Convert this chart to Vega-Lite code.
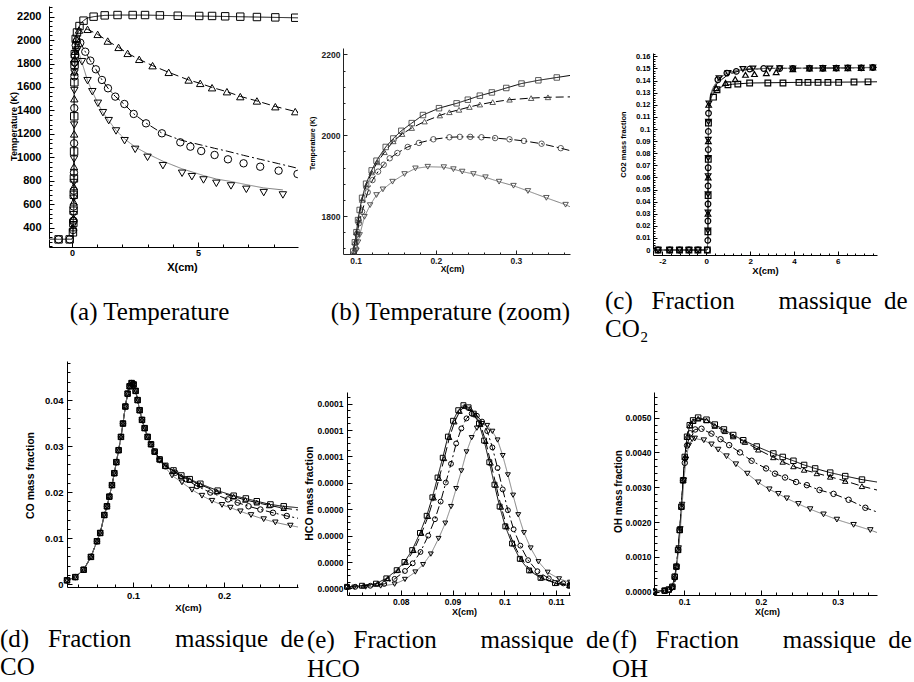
{
"$schema": "https://vega.github.io/schema/vega-lite/v6.json",
"background": "white",
"padding": 0,
"columns": 6,
"align": "each",
"bounds": "flush",
"spacing": 0,
"config": {
  "view": {"stroke": null},
  "axis": {"grid": false, "domainColor": "black", "tickColor": "black", "labelColor": "black", "titleColor": "black", "labelFont": "Liberation Sans", "titleFont": "Liberation Sans", "labelFontWeight": "bold", "titleFontWeight": "bold", "labelOverlap": false, "labelFlush": false, "domainWidth": 1, "tickWidth": 1, "titleBaseline": "middle", "titleAlign": "center", "tickCount": 1000}
},
"datasets": {
"aL": [
{"x":-0.91,"y":300,"s":"A"},{"x":-0.5,"y":300,"s":"A"},{"x":0,"y":300,"s":"A"},{"x":0.03,"y":320,"s":"A"},{"x":0.05,"y":400,"s":"A"},{"x":0.06,"y":480,"s":"A"},{"x":0.07,"y":620,"s":"A"},{"x":0.08,"y":850,"s":"A"},{"x":0.085,"y":1050,"s":"A"},{"x":0.09,"y":1300,"s":"A"},{"x":0.095,"y":1560,"s":"A"},{"x":0.1,"y":1730,"s":"A"},{"x":0.11,"y":1830,"s":"A"},{"x":0.12,"y":1905,"s":"A"},{"x":0.14,"y":1990,"s":"A"},{"x":0.17,"y":2030,"s":"A"},{"x":0.2,"y":2065,"s":"A"},{"x":0.25,"y":2095,"s":"A"},{"x":0.3,"y":2120,"s":"A"},{"x":0.36,"y":2145,"s":"A"},{"x":0.46,"y":2166,"s":"A"},{"x":0.6,"y":2188,"s":"A"},{"x":0.86,"y":2200,"s":"A"},{"x":1.3,"y":2211,"s":"A"},{"x":2,"y":2214,"s":"A"},{"x":3,"y":2213,"s":"A"},{"x":4,"y":2209,"s":"A"},{"x":5,"y":2205,"s":"A"},{"x":6,"y":2202,"s":"A"},{"x":7,"y":2198,"s":"A"},{"x":8,"y":2194,"s":"A"},{"x":8.97,"y":2190,"s":"A"},
{"x":-0.91,"y":300,"s":"B"},{"x":0,"y":300,"s":"B"},{"x":0.03,"y":320,"s":"B"},{"x":0.05,"y":400,"s":"B"},{"x":0.06,"y":480,"s":"B"},{"x":0.07,"y":620,"s":"B"},{"x":0.08,"y":850,"s":"B"},{"x":0.085,"y":1050,"s":"B"},{"x":0.09,"y":1300,"s":"B"},{"x":0.095,"y":1560,"s":"B"},{"x":0.1,"y":1730,"s":"B"},{"x":0.11,"y":1825,"s":"B"},{"x":0.12,"y":1900,"s":"B"},{"x":0.14,"y":1975,"s":"B"},{"x":0.17,"y":2015,"s":"B"},{"x":0.2,"y":2045,"s":"B"},{"x":0.25,"y":2072,"s":"B"},{"x":0.3,"y":2085,"s":"B"},{"x":0.36,"y":2094,"s":"B"},{"x":0.45,"y":2097,"s":"B"},{"x":0.62,"y":2092,"s":"B"},{"x":1.02,"y":2049,"s":"B"},{"x":1.42,"y":1992,"s":"B"},{"x":1.85,"y":1938,"s":"B"},{"x":2.21,"y":1887,"s":"B"},{"x":2.67,"y":1836,"s":"B"},{"x":3.2,"y":1782,"s":"B"},{"x":3.84,"y":1725,"s":"B"},{"x":4.63,"y":1660,"s":"B"},{"x":5.09,"y":1631,"s":"B"},{"x":5.56,"y":1596,"s":"B"},{"x":6.15,"y":1560,"s":"B"},{"x":6.68,"y":1520,"s":"B"},{"x":7.34,"y":1481,"s":"B"},{"x":8.07,"y":1434,"s":"B"},{"x":8.97,"y":1385,"s":"B"},
{"x":-0.91,"y":300,"s":"C"},{"x":0,"y":300,"s":"C"},{"x":0.03,"y":320,"s":"C"},{"x":0.05,"y":400,"s":"C"},{"x":0.06,"y":480,"s":"C"},{"x":0.07,"y":620,"s":"C"},{"x":0.08,"y":850,"s":"C"},{"x":0.085,"y":1050,"s":"C"},{"x":0.09,"y":1300,"s":"C"},{"x":0.095,"y":1540,"s":"C"},{"x":0.1,"y":1720,"s":"C"},{"x":0.11,"y":1820,"s":"C"},{"x":0.12,"y":1880,"s":"C"},{"x":0.14,"y":1935,"s":"C"},{"x":0.17,"y":1975,"s":"C"},{"x":0.2,"y":1990,"s":"C"},{"x":0.25,"y":1995,"s":"C"},{"x":0.3,"y":1988,"s":"C"},{"x":0.36,"y":1968,"s":"C"},{"x":0.53,"y":1901,"s":"C"},{"x":0.73,"y":1825,"s":"C"},{"x":0.95,"y":1751,"s":"C"},{"x":1.19,"y":1662,"s":"C"},{"x":1.43,"y":1590,"s":"C"},{"x":1.72,"y":1520,"s":"C"},{"x":2.08,"y":1452,"s":"C"},{"x":2.45,"y":1372,"s":"C"},{"x":2.94,"y":1292,"s":"C"},{"x":3.57,"y":1207,"s":"C"},{"x":4.3,"y":1148,"s":"C"},{"x":5.13,"y":1105,"s":"C"},{"x":5.66,"y":1077,"s":"C"},{"x":6.19,"y":1051,"s":"C"},{"x":6.81,"y":1017,"s":"C"},{"x":7.47,"y":983,"s":"C"},{"x":8.2,"y":946,"s":"C"},{"x":8.97,"y":906,"s":"C"},
{"x":-0.91,"y":300,"s":"D"},{"x":0,"y":300,"s":"D"},{"x":0.03,"y":320,"s":"D"},{"x":0.05,"y":400,"s":"D"},{"x":0.06,"y":480,"s":"D"},{"x":0.07,"y":620,"s":"D"},{"x":0.08,"y":850,"s":"D"},{"x":0.085,"y":1050,"s":"D"},{"x":0.09,"y":1300,"s":"D"},{"x":0.095,"y":1520,"s":"D"},{"x":0.1,"y":1700,"s":"D"},{"x":0.11,"y":1790,"s":"D"},{"x":0.12,"y":1830,"s":"D"},{"x":0.14,"y":1875,"s":"D"},{"x":0.17,"y":1912,"s":"D"},{"x":0.19,"y":1922,"s":"D"},{"x":0.21,"y":1921,"s":"D"},{"x":0.25,"y":1900,"s":"D"},{"x":0.3,"y":1875,"s":"D"},{"x":0.36,"y":1830,"s":"D"},{"x":0.4,"y":1808,"s":"D"},{"x":0.62,"y":1654,"s":"D"},{"x":0.81,"y":1560,"s":"D"},{"x":1.03,"y":1461,"s":"D"},{"x":1.23,"y":1381,"s":"D"},{"x":1.46,"y":1313,"s":"D"},{"x":1.75,"y":1230,"s":"D"},{"x":2.09,"y":1157,"s":"D"},{"x":2.51,"y":1088,"s":"D"},{"x":3.0,"y":1030,"s":"D"},{"x":3.61,"y":967,"s":"D"},{"x":4.37,"y":902,"s":"D"},{"x":5.22,"y":845,"s":"D"},{"x":5.73,"y":815,"s":"D"},{"x":6.31,"y":794,"s":"D"},{"x":6.92,"y":767,"s":"D"},{"x":7.61,"y":739,"s":"D"},{"x":8.37,"y":722,"s":"D"}
],
"aM": [
{"x":-0.53,"y":300,"s":"A"},{"x":-0.09,"y":300,"s":"A"},{"x":-0.53,"y":300,"s":"C"},{"x":-0.09,"y":300,"s":"C"},
{"x":0.04,"y":360,"s":"A"},{"x":0.055,"y":440,"s":"A"},{"x":0.065,"y":545,"s":"A"},{"x":0.073,"y":680,"s":"A"},{"x":0.079,"y":820,"s":"A"},{"x":0.085,"y":1050,"s":"A"},{"x":0.091,"y":1350,"s":"A"},{"x":0.097,"y":1640,"s":"A"},{"x":0.104,"y":1790,"s":"A"},{"x":0.113,"y":1880,"s":"A"},
{"x":0.05,"y":400,"s":"B"},{"x":0.06,"y":480,"s":"B"},{"x":0.07,"y":620,"s":"B"},{"x":0.076,"y":750,"s":"B"},{"x":0.082,"y":920,"s":"B"},{"x":0.088,"y":1200,"s":"B"},{"x":0.094,"y":1500,"s":"B"},{"x":0.1,"y":1730,"s":"B"},{"x":0.108,"y":1840,"s":"B"},{"x":0.12,"y":1905,"s":"B"},
{"x":0.045,"y":380,"s":"C"},{"x":0.0575,"y":460,"s":"C"},{"x":0.0675,"y":580,"s":"C"},{"x":0.0745,"y":715,"s":"C"},{"x":0.0805,"y":870,"s":"C"},{"x":0.0865,"y":1120,"s":"C"},{"x":0.0925,"y":1420,"s":"C"},{"x":0.0985,"y":1690,"s":"C"},{"x":0.106,"y":1810,"s":"C"},{"x":0.116,"y":1870,"s":"C"},
{"x":0.0525,"y":420,"s":"D"},{"x":0.0625,"y":510,"s":"D"},{"x":0.0715,"y":650,"s":"D"},{"x":0.0775,"y":785,"s":"D"},{"x":0.0835,"y":985,"s":"D"},{"x":0.0895,"y":1275,"s":"D"},{"x":0.0955,"y":1570,"s":"D"},{"x":0.102,"y":1720,"s":"D"},{"x":0.11,"y":1790,"s":"D"},
{"x":0.15,"y":2010,"s":"A"},{"x":0.2,"y":2065,"s":"A"},{"x":0.3,"y":2120,"s":"A"},{"x":0.46,"y":2166,"s":"A"},{"x":0.86,"y":2200,"s":"A"},{"x":1.3,"y":2211,"s":"A"},{"x":1.81,"y":2214,"s":"A"},{"x":2.41,"y":2214,"s":"A"},{"x":2.9,"y":2214,"s":"A"},{"x":3.49,"y":2211,"s":"A"},{"x":4.2,"y":2208,"s":"A"},{"x":5.05,"y":2206,"s":"A"},{"x":5.56,"y":2206,"s":"A"},{"x":6.08,"y":2203,"s":"A"},{"x":6.68,"y":2200,"s":"A"},{"x":7.34,"y":2197,"s":"A"},{"x":8.07,"y":2194,"s":"A"},{"x":8.86,"y":2191,"s":"A"},
{"x":0.17,"y":2016,"s":"B"},{"x":0.28,"y":2086,"s":"B"},{"x":0.62,"y":2092,"s":"B"},{"x":1.02,"y":2049,"s":"B"},{"x":1.42,"y":1992,"s":"B"},{"x":1.85,"y":1938,"s":"B"},{"x":2.21,"y":1887,"s":"B"},{"x":2.67,"y":1836,"s":"B"},{"x":3.2,"y":1782,"s":"B"},{"x":3.84,"y":1725,"s":"B"},{"x":4.63,"y":1660,"s":"B"},{"x":5.09,"y":1631,"s":"B"},{"x":5.56,"y":1594,"s":"B"},{"x":6.15,"y":1560,"s":"B"},{"x":6.68,"y":1518,"s":"B"},{"x":7.34,"y":1481,"s":"B"},{"x":8.07,"y":1432,"s":"B"},{"x":8.86,"y":1390,"s":"B"},
{"x":0.15,"y":1955,"s":"C"},{"x":0.2,"y":1990,"s":"C"},{"x":0.33,"y":1978,"s":"C"},{"x":0.53,"y":1901,"s":"C"},{"x":0.73,"y":1825,"s":"C"},{"x":0.95,"y":1751,"s":"C"},{"x":1.19,"y":1660,"s":"C"},{"x":1.43,"y":1589,"s":"C"},{"x":1.72,"y":1518,"s":"C"},{"x":2.08,"y":1455,"s":"C"},{"x":2.45,"y":1370,"s":"C"},{"x":2.94,"y":1290,"s":"C"},{"x":3.57,"y":1205,"s":"C"},{"x":4.3,"y":1128,"s":"C"},{"x":4.7,"y":1091,"s":"C"},{"x":5.13,"y":1054,"s":"C"},{"x":5.66,"y":1020,"s":"C"},{"x":6.19,"y":983,"s":"C"},{"x":6.81,"y":949,"s":"C"},{"x":7.47,"y":920,"s":"C"},{"x":8.2,"y":886,"s":"C"},{"x":8.95,"y":858,"s":"C"},
{"x":0.16,"y":1904,"s":"D"},{"x":0.22,"y":1917,"s":"D"},{"x":0.4,"y":1816,"s":"D"},{"x":0.62,"y":1654,"s":"D"},{"x":0.81,"y":1560,"s":"D"},{"x":1.03,"y":1461,"s":"D"},{"x":1.23,"y":1381,"s":"D"},{"x":1.46,"y":1313,"s":"D"},{"x":1.75,"y":1225,"s":"D"},{"x":2.09,"y":1142,"s":"D"},{"x":2.51,"y":1068,"s":"D"},{"x":3.0,"y":1000,"s":"D"},{"x":3.61,"y":929,"s":"D"},{"x":4.37,"y":864,"s":"D"},{"x":4.76,"y":835,"s":"D"},{"x":5.22,"y":807,"s":"D"},{"x":5.73,"y":778,"s":"D"},{"x":6.31,"y":756,"s":"D"},{"x":6.92,"y":727,"s":"D"},{"x":7.61,"y":699,"s":"D"},{"x":8.37,"y":679,"s":"D"}
],
"bL": [
{"x":0.095,"y":1690,"s":"A"},{"x":0.097,"y":1712,"s":"A"},{"x":0.099,"y":1735,"s":"A"},{"x":0.101,"y":1760,"s":"A"},{"x":0.103,"y":1790,"s":"A"},{"x":0.105,"y":1815,"s":"A"},{"x":0.108,"y":1845,"s":"A"},{"x":0.113,"y":1880,"s":"A"},{"x":0.12,"y":1913,"s":"A"},{"x":0.126,"y":1937,"s":"A"},{"x":0.1375,"y":1971,"s":"A"},{"x":0.147,"y":1992,"s":"A"},{"x":0.157,"y":2011,"s":"A"},{"x":0.17,"y":2030,"s":"A"},{"x":0.184,"y":2050,"s":"A"},{"x":0.204,"y":2067,"s":"A"},{"x":0.226,"y":2079,"s":"A"},{"x":0.24,"y":2088,"s":"A"},{"x":0.255,"y":2098,"s":"A"},{"x":0.27,"y":2106,"s":"A"},{"x":0.288,"y":2117,"s":"A"},{"x":0.307,"y":2128,"s":"A"},{"x":0.328,"y":2136,"s":"A"},{"x":0.351,"y":2143,"s":"A"},{"x":0.3675,"y":2148,"s":"A"},
{"x":0.095,"y":1690,"s":"B"},{"x":0.097,"y":1712,"s":"B"},{"x":0.099,"y":1735,"s":"B"},{"x":0.101,"y":1760,"s":"B"},{"x":0.104,"y":1795,"s":"B"},{"x":0.108,"y":1840,"s":"B"},{"x":0.113,"y":1875,"s":"B"},{"x":0.12,"y":1908,"s":"B"},{"x":0.127,"y":1933,"s":"B"},{"x":0.136,"y":1958,"s":"B"},{"x":0.147,"y":1985,"s":"B"},{"x":0.158,"y":2003,"s":"B"},{"x":0.17,"y":2018,"s":"B"},{"x":0.186,"y":2034,"s":"B"},{"x":0.205,"y":2049,"s":"B"},{"x":0.217,"y":2057,"s":"B"},{"x":0.229,"y":2063,"s":"B"},{"x":0.242,"y":2070,"s":"B"},{"x":0.255,"y":2076,"s":"B"},{"x":0.271,"y":2082,"s":"B"},{"x":0.292,"y":2088,"s":"B"},{"x":0.319,"y":2092,"s":"B"},{"x":0.34,"y":2094,"s":"B"},{"x":0.3675,"y":2095,"s":"B"},
{"x":0.098,"y":1690,"s":"C"},{"x":0.1,"y":1720,"s":"C"},{"x":0.102,"y":1755,"s":"C"},{"x":0.104,"y":1782,"s":"C"},{"x":0.108,"y":1811,"s":"C"},{"x":0.115,"y":1859,"s":"C"},{"x":0.121,"y":1889,"s":"C"},{"x":0.128,"y":1910,"s":"C"},{"x":0.135,"y":1927,"s":"C"},{"x":0.1425,"y":1943,"s":"C"},{"x":0.152,"y":1956,"s":"C"},{"x":0.165,"y":1971,"s":"C"},{"x":0.179,"y":1981,"s":"C"},{"x":0.197,"y":1990,"s":"C"},{"x":0.217,"y":1995,"s":"C"},{"x":0.23,"y":1996,"s":"C"},{"x":0.243,"y":1996,"s":"C"},{"x":0.257,"y":1995,"s":"C"},{"x":0.274,"y":1993,"s":"C"},{"x":0.292,"y":1990,"s":"C"},{"x":0.31,"y":1986,"s":"C"},{"x":0.332,"y":1979,"s":"C"},{"x":0.356,"y":1968,"s":"C"},{"x":0.3675,"y":1962,"s":"C"},
{"x":0.099,"y":1690,"s":"D"},{"x":0.101,"y":1715,"s":"D"},{"x":0.103,"y":1735,"s":"D"},{"x":0.105,"y":1753,"s":"D"},{"x":0.111,"y":1798,"s":"D"},{"x":0.118,"y":1827,"s":"D"},{"x":0.126,"y":1852,"s":"D"},{"x":0.134,"y":1866,"s":"D"},{"x":0.146,"y":1885,"s":"D"},{"x":0.161,"y":1904,"s":"D"},{"x":0.1746,"y":1918,"s":"D"},{"x":0.19,"y":1922,"s":"D"},{"x":0.21,"y":1921,"s":"D"},{"x":0.222,"y":1916,"s":"D"},{"x":0.233,"y":1910,"s":"D"},{"x":0.247,"y":1904,"s":"D"},{"x":0.262,"y":1896,"s":"D"},{"x":0.279,"y":1885,"s":"D"},{"x":0.297,"y":1875,"s":"D"},{"x":0.315,"y":1862,"s":"D"},{"x":0.338,"y":1845,"s":"D"},{"x":0.362,"y":1828,"s":"D"},{"x":0.3675,"y":1823,"s":"D"}
],
"cL": [
{"x":-2.43,"y":0,"s":"A"},{"x":0,"y":0,"s":"A"},{"x":0.05,"y":0.0005,"s":"A"},{"x":0.07,"y":0.01,"s":"A"},{"x":0.08,"y":0.035,"s":"A"},{"x":0.09,"y":0.07,"s":"A"},{"x":0.1,"y":0.1,"s":"A"},{"x":0.12,"y":0.117,"s":"A"},{"x":0.15,"y":0.122,"s":"A"},{"x":0.2,"y":0.125,"s":"A"},{"x":0.3,"y":0.129,"s":"A"},{"x":0.5,"y":0.133,"s":"A"},{"x":0.8,"y":0.1358,"s":"A"},{"x":1.2,"y":0.137,"s":"A"},{"x":2,"y":0.138,"s":"A"},{"x":4,"y":0.1385,"s":"A"},{"x":6,"y":0.1387,"s":"A"},{"x":7.79,"y":0.139,"s":"A"},
{"x":-2.43,"y":0,"s":"B"},{"x":0,"y":0,"s":"B"},{"x":0.05,"y":0.0005,"s":"B"},{"x":0.07,"y":0.01,"s":"B"},{"x":0.08,"y":0.035,"s":"B"},{"x":0.09,"y":0.07,"s":"B"},{"x":0.1,"y":0.1,"s":"B"},{"x":0.12,"y":0.118,"s":"B"},{"x":0.15,"y":0.123,"s":"B"},{"x":0.2,"y":0.127,"s":"B"},{"x":0.3,"y":0.132,"s":"B"},{"x":0.5,"y":0.138,"s":"B"},{"x":1,"y":0.145,"s":"B"},{"x":1.5,"y":0.148,"s":"B"},{"x":2,"y":0.1495,"s":"B"},{"x":3,"y":0.15,"s":"B"},{"x":5,"y":0.1503,"s":"B"},{"x":7.79,"y":0.1508,"s":"B"},
{"x":-2.43,"y":0,"s":"C"},{"x":0,"y":0,"s":"C"},{"x":0.05,"y":0.0005,"s":"C"},{"x":0.07,"y":0.01,"s":"C"},{"x":0.08,"y":0.035,"s":"C"},{"x":0.09,"y":0.07,"s":"C"},{"x":0.1,"y":0.1,"s":"C"},{"x":0.12,"y":0.118,"s":"C"},{"x":0.15,"y":0.124,"s":"C"},{"x":0.2,"y":0.128,"s":"C"},{"x":0.3,"y":0.133,"s":"C"},{"x":0.53,"y":0.1407,"s":"C"},{"x":0.94,"y":0.1462,"s":"C"},{"x":1.37,"y":0.148,"s":"C"},{"x":1.98,"y":0.1495,"s":"C"},{"x":2.62,"y":0.15,"s":"C"},{"x":4,"y":0.1502,"s":"C"},{"x":6,"y":0.1505,"s":"C"},{"x":7.79,"y":0.1508,"s":"C"},
{"x":-2.43,"y":0,"s":"D"},{"x":0,"y":0,"s":"D"},{"x":0.05,"y":0.0005,"s":"D"},{"x":0.07,"y":0.01,"s":"D"},{"x":0.08,"y":0.035,"s":"D"},{"x":0.09,"y":0.07,"s":"D"},{"x":0.1,"y":0.1,"s":"D"},{"x":0.12,"y":0.119,"s":"D"},{"x":0.15,"y":0.125,"s":"D"},{"x":0.2,"y":0.129,"s":"D"},{"x":0.3,"y":0.134,"s":"D"},{"x":0.58,"y":0.142,"s":"D"},{"x":0.99,"y":0.1465,"s":"D"},{"x":1.67,"y":0.1495,"s":"D"},{"x":2.13,"y":0.15,"s":"D"},{"x":4,"y":0.1503,"s":"D"},{"x":6,"y":0.1506,"s":"D"},{"x":7.79,"y":0.151,"s":"D"}
],
"cM": [
{"x":-2.2,"y":0,"s":"C"},{"x":-1.67,"y":0,"s":"C"},{"x":-1.22,"y":0,"s":"C"},{"x":-0.79,"y":0,"s":"C"},{"x":-0.38,"y":0,"s":"C"},{"x":0.05,"y":0,"s":"C"},
{"x":-2.2,"y":0,"s":"A"},{"x":-1.67,"y":0,"s":"A"},{"x":-1.22,"y":0,"s":"A"},{"x":-0.79,"y":0,"s":"A"},{"x":-0.38,"y":0,"s":"A"},{"x":0.05,"y":0,"s":"A"},
{"x":-2.2,"y":0,"s":"D"},{"x":-1.67,"y":0,"s":"D"},{"x":-1.22,"y":0,"s":"D"},{"x":-0.79,"y":0,"s":"D"},{"x":-0.38,"y":0,"s":"D"},
{"x":0.075,"y":0.015,"s":"A"},{"x":0.085,"y":0.045,"s":"A"},{"x":0.093,"y":0.075,"s":"A"},{"x":0.1,"y":0.105,"s":"A"},
{"x":0.078,"y":0.03,"s":"B"},{"x":0.089,"y":0.06,"s":"B"},{"x":0.097,"y":0.09,"s":"B"},{"x":0.11,"y":0.12,"s":"B"},
{"x":0.07,"y":0.008,"s":"C"},{"x":0.076,"y":0.024,"s":"C"},{"x":0.08,"y":0.038,"s":"C"},{"x":0.084,"y":0.053,"s":"C"},{"x":0.088,"y":0.068,"s":"C"},{"x":0.092,"y":0.083,"s":"C"},{"x":0.096,"y":0.098,"s":"C"},{"x":0.103,"y":0.113,"s":"C"},
{"x":0.073,"y":0.016,"s":"D"},{"x":0.078,"y":0.031,"s":"D"},{"x":0.082,"y":0.046,"s":"D"},{"x":0.086,"y":0.061,"s":"D"},{"x":0.09,"y":0.076,"s":"D"},{"x":0.094,"y":0.091,"s":"D"},{"x":0.099,"y":0.106,"s":"D"},{"x":0.12,"y":0.121,"s":"D"},
{"x":0.33,"y":0.1263,"s":"A"},{"x":0.49,"y":0.1324,"s":"A"},{"x":0.99,"y":0.1366,"s":"A"},{"x":1.44,"y":0.1371,"s":"A"},{"x":1.98,"y":0.138,"s":"A"},{"x":2.81,"y":0.138,"s":"A"},{"x":3.5,"y":0.138,"s":"A"},{"x":4.23,"y":0.1385,"s":"A"},{"x":4.64,"y":0.1385,"s":"A"},{"x":5.1,"y":0.1385,"s":"A"},{"x":5.55,"y":0.1385,"s":"A"},{"x":6.04,"y":0.1385,"s":"A"},{"x":6.74,"y":0.1388,"s":"A"},{"x":7.38,"y":0.139,"s":"A"},
{"x":0.46,"y":0.1338,"s":"B"},{"x":0.88,"y":0.138,"s":"B"},{"x":1.32,"y":0.1412,"s":"B"},{"x":1.79,"y":0.1448,"s":"B"},{"x":2.2,"y":0.1454,"s":"B"},{"x":2.74,"y":0.1462,"s":"B"},{"x":3.19,"y":0.147,"s":"B"},{"x":3.95,"y":0.1495,"s":"B"},{"x":4.71,"y":0.15,"s":"B"},{"x":5.32,"y":0.15,"s":"B"},{"x":5.93,"y":0.1503,"s":"B"},{"x":6.46,"y":0.1503,"s":"B"},{"x":7.07,"y":0.1505,"s":"B"},{"x":7.6,"y":0.1508,"s":"B"},
{"x":0.53,"y":0.1407,"s":"C"},{"x":0.94,"y":0.1462,"s":"C"},{"x":1.37,"y":0.1476,"s":"C"},{"x":1.98,"y":0.1495,"s":"C"},{"x":2.62,"y":0.15,"s":"C"},{"x":3.35,"y":0.15,"s":"C"},{"x":3.95,"y":0.15,"s":"C"},{"x":4.71,"y":0.1502,"s":"C"},{"x":5.32,"y":0.1502,"s":"C"},{"x":5.93,"y":0.1503,"s":"C"},{"x":6.46,"y":0.1505,"s":"C"},{"x":7.07,"y":0.1505,"s":"C"},{"x":7.6,"y":0.1508,"s":"C"},
{"x":0.58,"y":0.142,"s":"D"},{"x":0.99,"y":0.1462,"s":"D"},{"x":1.67,"y":0.1495,"s":"D"},{"x":2.13,"y":0.15,"s":"D"},{"x":2.9,"y":0.15,"s":"D"},{"x":3.35,"y":0.1502,"s":"D"},{"x":3.95,"y":0.15,"s":"D"},{"x":4.71,"y":0.1502,"s":"D"},{"x":5.32,"y":0.1503,"s":"D"},{"x":5.93,"y":0.1503,"s":"D"},{"x":6.46,"y":0.1505,"s":"D"},{"x":7.07,"y":0.1506,"s":"D"},{"x":7.6,"y":0.1508,"s":"D"}
],
"dL": [
{"x":0.0275,"y":0.0008,"s":"A"},{"x":0.0366,"y":0.0015,"s":"A"},{"x":0.0458,"y":0.0031,"s":"A"},{"x":0.0538,"y":0.0059,"s":"A"},{"x":0.0604,"y":0.0093,"s":"A"},{"x":0.064,"y":0.0111,"s":"A"},{"x":0.0685,"y":0.015,"s":"A"},{"x":0.0714,"y":0.0169,"s":"A"},{"x":0.074,"y":0.019,"s":"A"},{"x":0.0769,"y":0.0215,"s":"A"},{"x":0.0795,"y":0.0241,"s":"A"},{"x":0.0817,"y":0.0265,"s":"A"},{"x":0.0842,"y":0.0291,"s":"A"},{"x":0.0868,"y":0.032,"s":"A"},{"x":0.089,"y":0.0349,"s":"A"},{"x":0.0916,"y":0.0386,"s":"A"},{"x":0.0941,"y":0.0414,"s":"A"},{"x":0.0963,"y":0.043,"s":"A"},{"x":0.0985,"y":0.0437,"s":"A"},{"x":0.1007,"y":0.0434,"s":"A"},{"x":0.1029,"y":0.042,"s":"A"},{"x":0.1051,"y":0.04,"s":"A"},{"x":0.1073,"y":0.0378,"s":"A"},{"x":0.1099,"y":0.0357,"s":"A"},{"x":0.1128,"y":0.0339,"s":"A"},{"x":0.1161,"y":0.032,"s":"A"},{"x":0.1198,"y":0.0304,"s":"A"},{"x":0.1238,"y":0.0288,"s":"A"},{"x":0.1293,"y":0.0271,"s":"A"},{"x":0.1355,"y":0.0257,"s":"A"},{"x":0.1445,"y":0.0247,"s":"A"},{"x":0.1531,"y":0.0236,"s":"A"},{"x":0.1623,"y":0.0228,"s":"A"},{"x":0.174,"y":0.0218,"s":"A"},{"x":0.193,"y":0.0203,"s":"A"},{"x":0.2106,"y":0.0192,"s":"A"},{"x":0.224,"y":0.0186,"s":"A"},{"x":0.236,"y":0.018,"s":"A"},{"x":0.251,"y":0.0173,"s":"A"},{"x":0.2656,"y":0.0169,"s":"A"},{"x":0.2813,"y":0.0166,"s":"A"},
{"x":0.0275,"y":0.0008,"s":"B"},{"x":0.0366,"y":0.0015,"s":"B"},{"x":0.0458,"y":0.0031,"s":"B"},{"x":0.0538,"y":0.0059,"s":"B"},{"x":0.0604,"y":0.0093,"s":"B"},{"x":0.064,"y":0.0111,"s":"B"},{"x":0.0685,"y":0.015,"s":"B"},{"x":0.0714,"y":0.0169,"s":"B"},{"x":0.074,"y":0.019,"s":"B"},{"x":0.0769,"y":0.0215,"s":"B"},{"x":0.0795,"y":0.0241,"s":"B"},{"x":0.0817,"y":0.0265,"s":"B"},{"x":0.0842,"y":0.0291,"s":"B"},{"x":0.0868,"y":0.032,"s":"B"},{"x":0.089,"y":0.0349,"s":"B"},{"x":0.0916,"y":0.0386,"s":"B"},{"x":0.0941,"y":0.0414,"s":"B"},{"x":0.0963,"y":0.043,"s":"B"},{"x":0.0985,"y":0.0437,"s":"B"},{"x":0.1007,"y":0.0434,"s":"B"},{"x":0.1029,"y":0.042,"s":"B"},{"x":0.1051,"y":0.04,"s":"B"},{"x":0.1073,"y":0.0378,"s":"B"},{"x":0.1099,"y":0.0357,"s":"B"},{"x":0.1128,"y":0.0339,"s":"B"},{"x":0.1161,"y":0.032,"s":"B"},{"x":0.1198,"y":0.0304,"s":"B"},{"x":0.1238,"y":0.0288,"s":"B"},{"x":0.1293,"y":0.0271,"s":"B"},{"x":0.1355,"y":0.0257,"s":"B"},{"x":0.1445,"y":0.0246,"s":"B"},{"x":0.1531,"y":0.0234,"s":"B"},{"x":0.1623,"y":0.0226,"s":"B"},{"x":0.174,"y":0.0216,"s":"B"},{"x":0.192,"y":0.0201,"s":"B"},{"x":0.2106,"y":0.019,"s":"B"},{"x":0.2234,"y":0.0183,"s":"B"},{"x":0.236,"y":0.0177,"s":"B"},{"x":0.2495,"y":0.0171,"s":"B"},{"x":0.2656,"y":0.0165,"s":"B"},{"x":0.2813,"y":0.0161,"s":"B"},
{"x":0.0275,"y":0.0008,"s":"C"},{"x":0.0366,"y":0.0015,"s":"C"},{"x":0.0458,"y":0.0031,"s":"C"},{"x":0.0538,"y":0.0059,"s":"C"},{"x":0.0604,"y":0.0093,"s":"C"},{"x":0.064,"y":0.0111,"s":"C"},{"x":0.0685,"y":0.015,"s":"C"},{"x":0.0714,"y":0.0169,"s":"C"},{"x":0.074,"y":0.019,"s":"C"},{"x":0.0769,"y":0.0215,"s":"C"},{"x":0.0795,"y":0.0241,"s":"C"},{"x":0.0817,"y":0.0265,"s":"C"},{"x":0.0842,"y":0.0291,"s":"C"},{"x":0.0868,"y":0.032,"s":"C"},{"x":0.089,"y":0.0349,"s":"C"},{"x":0.0916,"y":0.0386,"s":"C"},{"x":0.0941,"y":0.0414,"s":"C"},{"x":0.0963,"y":0.043,"s":"C"},{"x":0.0985,"y":0.0437,"s":"C"},{"x":0.1007,"y":0.0434,"s":"C"},{"x":0.1029,"y":0.042,"s":"C"},{"x":0.1051,"y":0.04,"s":"C"},{"x":0.1073,"y":0.0378,"s":"C"},{"x":0.1099,"y":0.0357,"s":"C"},{"x":0.1128,"y":0.0339,"s":"C"},{"x":0.1161,"y":0.032,"s":"C"},{"x":0.1198,"y":0.0304,"s":"C"},{"x":0.1238,"y":0.0288,"s":"C"},{"x":0.1293,"y":0.0271,"s":"C"},{"x":0.1355,"y":0.0256,"s":"C"},{"x":0.1465,"y":0.0242,"s":"C"},{"x":0.158,"y":0.0228,"s":"C"},{"x":0.1703,"y":0.0213,"s":"C"},{"x":0.185,"y":0.0199,"s":"C"},{"x":0.2044,"y":0.0184,"s":"C"},{"x":0.215,"y":0.0177,"s":"C"},{"x":0.227,"y":0.0169,"s":"C"},{"x":0.24,"y":0.0162,"s":"C"},{"x":0.2538,"y":0.0155,"s":"C"},{"x":0.269,"y":0.0148,"s":"C"},{"x":0.2813,"y":0.0143,"s":"C"},
{"x":0.0275,"y":0.0008,"s":"D"},{"x":0.0366,"y":0.0015,"s":"D"},{"x":0.0458,"y":0.0031,"s":"D"},{"x":0.0538,"y":0.0059,"s":"D"},{"x":0.0604,"y":0.0093,"s":"D"},{"x":0.064,"y":0.0111,"s":"D"},{"x":0.0685,"y":0.015,"s":"D"},{"x":0.0714,"y":0.0169,"s":"D"},{"x":0.074,"y":0.019,"s":"D"},{"x":0.0769,"y":0.0215,"s":"D"},{"x":0.0795,"y":0.0241,"s":"D"},{"x":0.0817,"y":0.0265,"s":"D"},{"x":0.0842,"y":0.0291,"s":"D"},{"x":0.0868,"y":0.032,"s":"D"},{"x":0.089,"y":0.0349,"s":"D"},{"x":0.0916,"y":0.0386,"s":"D"},{"x":0.0941,"y":0.0414,"s":"D"},{"x":0.0963,"y":0.043,"s":"D"},{"x":0.0985,"y":0.0437,"s":"D"},{"x":0.1007,"y":0.0434,"s":"D"},{"x":0.1029,"y":0.042,"s":"D"},{"x":0.1051,"y":0.04,"s":"D"},{"x":0.1073,"y":0.0378,"s":"D"},{"x":0.1099,"y":0.0357,"s":"D"},{"x":0.1128,"y":0.0339,"s":"D"},{"x":0.1161,"y":0.032,"s":"D"},{"x":0.1198,"y":0.0303,"s":"D"},{"x":0.1238,"y":0.0286,"s":"D"},{"x":0.1293,"y":0.0268,"s":"D"},{"x":0.1429,"y":0.0236,"s":"D"},{"x":0.1538,"y":0.0221,"s":"D"},{"x":0.1648,"y":0.0205,"s":"D"},{"x":0.1758,"y":0.0192,"s":"D"},{"x":0.1868,"y":0.0181,"s":"D"},{"x":0.1978,"y":0.0172,"s":"D"},{"x":0.207,"y":0.0166,"s":"D"},{"x":0.218,"y":0.0158,"s":"D"},{"x":0.2297,"y":0.015,"s":"D"},{"x":0.2436,"y":0.0141,"s":"D"},{"x":0.2564,"y":0.0134,"s":"D"},{"x":0.2729,"y":0.0127,"s":"D"},{"x":0.2813,"y":0.0124,"s":"D"}
],
"eL": [
{"x":0.0696,"y":6e-7,"s":"A"},{"x":0.0725,"y":1.0e-6,"s":"A"},{"x":0.0752,"y":1.8e-6,"s":"A"},{"x":0.0772,"y":3.8e-6,"s":"A"},{"x":0.0792,"y":6.9e-6,"s":"A"},{"x":0.0807,"y":1.0e-5,"s":"A"},{"x":0.0822,"y":1.45e-5,"s":"A"},{"x":0.0837,"y":2.1e-5,"s":"A"},{"x":0.085,"y":2.75e-5,"s":"A"},{"x":0.0861,"y":3.45e-5,"s":"A"},{"x":0.0871,"y":4.2e-5,"s":"A"},{"x":0.0881,"y":4.95e-5,"s":"A"},{"x":0.0891,"y":5.75e-5,"s":"A"},{"x":0.0901,"y":6.35e-5,"s":"A"},{"x":0.0911,"y":6.75e-5,"s":"A"},{"x":0.0921,"y":6.94e-5,"s":"A"},{"x":0.0931,"y":6.86e-5,"s":"A"},{"x":0.0941,"y":6.62e-5,"s":"A"},{"x":0.0951,"y":6.25e-5,"s":"A"},{"x":0.0961,"y":5.6e-5,"s":"A"},{"x":0.0971,"y":4.78e-5,"s":"A"},{"x":0.0981,"y":3.93e-5,"s":"A"},{"x":0.0991,"y":3.1e-5,"s":"A"},{"x":0.1002,"y":2.35e-5,"s":"A"},{"x":0.1015,"y":1.7e-5,"s":"A"},{"x":0.103,"y":1.12e-5,"s":"A"},{"x":0.1048,"y":6.8e-6,"s":"A"},{"x":0.107,"y":4.0e-6,"s":"A"},{"x":0.1098,"y":2.0e-6,"s":"A"},{"x":0.1127,"y":1.0e-6,"s":"A"},
{"x":0.0699,"y":6e-7,"s":"B"},{"x":0.0728,"y":1.0e-6,"s":"B"},{"x":0.0755,"y":1.8e-6,"s":"B"},{"x":0.0775,"y":3.8e-6,"s":"B"},{"x":0.0795,"y":6.9e-6,"s":"B"},{"x":0.081,"y":9.9e-6,"s":"B"},{"x":0.0825,"y":1.44e-5,"s":"B"},{"x":0.084,"y":2.09e-5,"s":"B"},{"x":0.0853,"y":2.73e-5,"s":"B"},{"x":0.0864,"y":3.43e-5,"s":"B"},{"x":0.0874,"y":4.17e-5,"s":"B"},{"x":0.0884,"y":4.92e-5,"s":"B"},{"x":0.0894,"y":5.72e-5,"s":"B"},{"x":0.0904,"y":6.31e-5,"s":"B"},{"x":0.0914,"y":6.71e-5,"s":"B"},{"x":0.0924,"y":6.9e-5,"s":"B"},{"x":0.0934,"y":6.82e-5,"s":"B"},{"x":0.0944,"y":6.58e-5,"s":"B"},{"x":0.0954,"y":6.21e-5,"s":"B"},{"x":0.0964,"y":5.57e-5,"s":"B"},{"x":0.0974,"y":4.75e-5,"s":"B"},{"x":0.0984,"y":3.91e-5,"s":"B"},{"x":0.0994,"y":3.08e-5,"s":"B"},{"x":0.1005,"y":2.34e-5,"s":"B"},{"x":0.1018,"y":1.69e-5,"s":"B"},{"x":0.1033,"y":1.11e-5,"s":"B"},{"x":0.1051,"y":6.8e-6,"s":"B"},{"x":0.1073,"y":4.0e-6,"s":"B"},{"x":0.1101,"y":2.0e-6,"s":"B"},{"x":0.1125,"y":1.1e-6,"s":"B"},
{"x":0.0696,"y":5e-7,"s":"C"},{"x":0.0712,"y":6e-7,"s":"C"},{"x":0.0741,"y":1.0e-6,"s":"C"},{"x":0.0768,"y":1.7e-6,"s":"C"},{"x":0.0788,"y":3.6e-6,"s":"C"},{"x":0.0808,"y":6.6e-6,"s":"C"},{"x":0.0823,"y":9.5e-6,"s":"C"},{"x":0.0838,"y":1.38e-5,"s":"C"},{"x":0.0853,"y":2.0e-5,"s":"C"},{"x":0.0866,"y":2.62e-5,"s":"C"},{"x":0.0877,"y":3.29e-5,"s":"C"},{"x":0.0887,"y":4.01e-5,"s":"C"},{"x":0.0897,"y":4.72e-5,"s":"C"},{"x":0.0907,"y":5.49e-5,"s":"C"},{"x":0.0917,"y":6.06e-5,"s":"C"},{"x":0.0927,"y":6.44e-5,"s":"C"},{"x":0.0937,"y":6.62e-5,"s":"C"},{"x":0.0947,"y":6.54e-5,"s":"C"},{"x":0.0957,"y":6.32e-5,"s":"C"},{"x":0.0967,"y":5.96e-5,"s":"C"},{"x":0.0977,"y":5.34e-5,"s":"C"},{"x":0.0987,"y":4.56e-5,"s":"C"},{"x":0.0997,"y":3.75e-5,"s":"C"},{"x":0.1007,"y":2.96e-5,"s":"C"},{"x":0.1018,"y":2.24e-5,"s":"C"},{"x":0.1031,"y":1.62e-5,"s":"C"},{"x":0.1046,"y":1.07e-5,"s":"C"},{"x":0.1064,"y":6.5e-6,"s":"C"},{"x":0.1086,"y":3.8e-6,"s":"C"},{"x":0.1114,"y":1.9e-6,"s":"C"},{"x":0.1127,"y":1.5e-6,"s":"C"},
{"x":0.0696,"y":4e-7,"s":"D"},{"x":0.071,"y":4.5e-7,"s":"D"},{"x":0.0732,"y":5e-7,"s":"D"},{"x":0.0761,"y":9e-7,"s":"D"},{"x":0.0788,"y":1.6e-6,"s":"D"},{"x":0.0808,"y":3.4e-6,"s":"D"},{"x":0.0828,"y":6.2e-6,"s":"D"},{"x":0.0843,"y":9.0e-6,"s":"D"},{"x":0.0858,"y":1.3e-5,"s":"D"},{"x":0.0873,"y":1.89e-5,"s":"D"},{"x":0.0886,"y":2.47e-5,"s":"D"},{"x":0.0897,"y":3.1e-5,"s":"D"},{"x":0.0907,"y":3.78e-5,"s":"D"},{"x":0.0917,"y":4.45e-5,"s":"D"},{"x":0.0927,"y":5.17e-5,"s":"D"},{"x":0.0937,"y":5.71e-5,"s":"D"},{"x":0.0947,"y":6.07e-5,"s":"D"},{"x":0.0957,"y":6.24e-5,"s":"D"},{"x":0.0967,"y":6.17e-5,"s":"D"},{"x":0.0977,"y":5.95e-5,"s":"D"},{"x":0.0987,"y":5.62e-5,"s":"D"},{"x":0.0997,"y":5.03e-5,"s":"D"},{"x":0.1007,"y":4.3e-5,"s":"D"},{"x":0.1017,"y":3.53e-5,"s":"D"},{"x":0.1027,"y":2.79e-5,"s":"D"},{"x":0.1038,"y":2.11e-5,"s":"D"},{"x":0.1051,"y":1.53e-5,"s":"D"},{"x":0.1066,"y":1.01e-5,"s":"D"},{"x":0.1084,"y":6.1e-6,"s":"D"},{"x":0.1106,"y":3.6e-6,"s":"D"},{"x":0.1127,"y":2.3e-6,"s":"D"}
],
"fL": [
{"x":0.0608,"y":0,"s":"A"},{"x":0.0747,"y":0.00003,"s":"A"},{"x":0.08,"y":0.00006,"s":"A"},{"x":0.0847,"y":0.00014,"s":"A"},{"x":0.0878,"y":0.00043,"s":"A"},{"x":0.09,"y":0.00072,"s":"A"},{"x":0.0922,"y":0.0012,"s":"A"},{"x":0.0943,"y":0.00177,"s":"A"},{"x":0.0965,"y":0.00244,"s":"A"},{"x":0.0987,"y":0.0032,"s":"A"},{"x":0.1009,"y":0.00387,"s":"A"},{"x":0.1039,"y":0.00445,"s":"A"},{"x":0.1074,"y":0.00478,"s":"A"},{"x":0.1118,"y":0.00492,"s":"A"},{"x":0.1183,"y":0.005,"s":"A"},{"x":0.1292,"y":0.00494,"s":"A"},{"x":0.14,"y":0.0048,"s":"A"},{"x":0.1519,"y":0.00466,"s":"A"},{"x":0.164,"y":0.0045,"s":"A"},{"x":0.1771,"y":0.00435,"s":"A"},{"x":0.1946,"y":0.00417,"s":"A"},{"x":0.2163,"y":0.00397,"s":"A"},{"x":0.2285,"y":0.00387,"s":"A"},{"x":0.2425,"y":0.00376,"s":"A"},{"x":0.2564,"y":0.00364,"s":"A"},{"x":0.2708,"y":0.00354,"s":"A"},{"x":0.2904,"y":0.00342,"s":"A"},{"x":0.31,"y":0.00332,"s":"A"},{"x":0.3318,"y":0.00322,"s":"A"},{"x":0.3514,"y":0.00315,"s":"A"},
{"x":0.0608,"y":0,"s":"B"},{"x":0.0747,"y":0.00003,"s":"B"},{"x":0.08,"y":0.00006,"s":"B"},{"x":0.0847,"y":0.00014,"s":"B"},{"x":0.0878,"y":0.00043,"s":"B"},{"x":0.09,"y":0.00072,"s":"B"},{"x":0.0922,"y":0.0012,"s":"B"},{"x":0.0943,"y":0.00177,"s":"B"},{"x":0.0965,"y":0.00244,"s":"B"},{"x":0.0987,"y":0.0032,"s":"B"},{"x":0.1009,"y":0.00387,"s":"B"},{"x":0.1039,"y":0.00445,"s":"B"},{"x":0.1074,"y":0.00478,"s":"B"},{"x":0.1118,"y":0.0049,"s":"B"},{"x":0.1183,"y":0.00497,"s":"B"},{"x":0.1292,"y":0.00492,"s":"B"},{"x":0.14,"y":0.00476,"s":"B"},{"x":0.1532,"y":0.00461,"s":"B"},{"x":0.164,"y":0.00446,"s":"B"},{"x":0.1793,"y":0.0043,"s":"B"},{"x":0.1967,"y":0.00408,"s":"B"},{"x":0.2163,"y":0.00386,"s":"B"},{"x":0.2285,"y":0.00373,"s":"B"},{"x":0.2425,"y":0.0036,"s":"B"},{"x":0.2564,"y":0.0035,"s":"B"},{"x":0.273,"y":0.0034,"s":"B"},{"x":0.2904,"y":0.0033,"s":"B"},{"x":0.31,"y":0.00318,"s":"B"},{"x":0.3318,"y":0.00303,"s":"B"},{"x":0.3514,"y":0.00292,"s":"B"},
{"x":0.0608,"y":0,"s":"C"},{"x":0.0747,"y":0.00003,"s":"C"},{"x":0.08,"y":0.00006,"s":"C"},{"x":0.0847,"y":0.00014,"s":"C"},{"x":0.0878,"y":0.00043,"s":"C"},{"x":0.09,"y":0.00072,"s":"C"},{"x":0.0922,"y":0.0012,"s":"C"},{"x":0.0943,"y":0.00177,"s":"C"},{"x":0.0965,"y":0.00244,"s":"C"},{"x":0.0987,"y":0.0032,"s":"C"},{"x":0.1009,"y":0.0037,"s":"C"},{"x":0.1039,"y":0.0042,"s":"C"},{"x":0.108,"y":0.00455,"s":"C"},{"x":0.1145,"y":0.00466,"s":"C"},{"x":0.1227,"y":0.00468,"s":"C"},{"x":0.1357,"y":0.00454,"s":"C"},{"x":0.1475,"y":0.00438,"s":"C"},{"x":0.1588,"y":0.00421,"s":"C"},{"x":0.1728,"y":0.004,"s":"C"},{"x":0.188,"y":0.00376,"s":"C"},{"x":0.2068,"y":0.00354,"s":"C"},{"x":0.2185,"y":0.00339,"s":"C"},{"x":0.2316,"y":0.00328,"s":"C"},{"x":0.246,"y":0.00315,"s":"C"},{"x":0.26,"y":0.00306,"s":"C"},{"x":0.2765,"y":0.00292,"s":"C"},{"x":0.2948,"y":0.00281,"s":"C"},{"x":0.3144,"y":0.00264,"s":"C"},{"x":0.3362,"y":0.00241,"s":"C"},{"x":0.3514,"y":0.00229,"s":"C"},
{"x":0.0608,"y":0,"s":"D"},{"x":0.0747,"y":0.00002,"s":"D"},{"x":0.0847,"y":0.0001,"s":"D"},{"x":0.088,"y":0.00035,"s":"D"},{"x":0.0905,"y":0.0007,"s":"D"},{"x":0.093,"y":0.00125,"s":"D"},{"x":0.0952,"y":0.0018,"s":"D"},{"x":0.0975,"y":0.0025,"s":"D"},{"x":0.0998,"y":0.0032,"s":"D"},{"x":0.1025,"y":0.0038,"s":"D"},{"x":0.106,"y":0.0042,"s":"D"},{"x":0.1105,"y":0.00438,"s":"D"},{"x":0.1139,"y":0.0044,"s":"D"},{"x":0.1257,"y":0.00435,"s":"D"},{"x":0.1357,"y":0.00423,"s":"D"},{"x":0.1444,"y":0.00408,"s":"D"},{"x":0.1553,"y":0.00389,"s":"D"},{"x":0.1675,"y":0.00366,"s":"D"},{"x":0.1824,"y":0.00339,"s":"D"},{"x":0.1967,"y":0.00314,"s":"D"},{"x":0.2111,"y":0.00294,"s":"D"},{"x":0.2229,"y":0.00281,"s":"D"},{"x":0.2338,"y":0.00268,"s":"D"},{"x":0.249,"y":0.00252,"s":"D"},{"x":0.2643,"y":0.00237,"s":"D"},{"x":0.2817,"y":0.00222,"s":"D"},{"x":0.2991,"y":0.00207,"s":"D"},{"x":0.3209,"y":0.00192,"s":"D"},{"x":0.3427,"y":0.00177,"s":"D"},{"x":0.3514,"y":0.0017,"s":"D"}
]
},
"concat": [
{"width":49,"height":6,"data":{"values":[{}]},"mark":{"type":"rect","opacity":0}},
{"width":1,"height":1,"data":{"values":[{}]},"mark":{"type":"rect","opacity":0}},
{"width":45,"height":1,"data":{"values":[{}]},"mark":{"type":"rect","opacity":0}},
{"width":1,"height":1,"data":{"values":[{}]},"mark":{"type":"rect","opacity":0}},
{"width":83,"height":1,"data":{"values":[{}]},"mark":{"type":"rect","opacity":0}},
{"width":1,"height":1,"data":{"values":[{}]},"mark":{"type":"rect","opacity":0}},

{"width":1,"height":1,"data":{"values":[{}]},"mark":{"type":"rect","opacity":0}},
{
 "width": 249, "height": 249,
 "title": {"text": "(a) Temperature", "orient": "bottom", "anchor": "middle", "align": "center", "frame": "group", "offset": 48, "dx": -24, "font": "Liberation Serif", "fontSize": 25, "fontWeight": "normal", "color": "black", "baseline": "alphabetic"},
 "layer": [
  {"data": {"name": "aL"}, "mark": {"type": "line", "clip": true, "strokeWidth": 1},
   "encoding": {
    "x": {"field": "x", "type": "quantitative", "title": "X(cm)", "scale": {"domain": [-0.91, 8.97], "nice": false, "zero": false},
      "axis": {"offset": -8, "tickCount": 1000, "labelOverlap": false, "values": [0,1,2,3,4,5,6,7,8], "labelExpr": "indexof([0,5], datum.value) >= 0 ? '' + datum.value : ''", "tickSize": {"condition": {"test": "indexof([0,5], datum.value) >= 0", "value": -5}, "value": -3}, "labelPadding": 6, "labelFontSize": 9, "titleFontSize": 11, "titleX": 133, "titleY": 20}},
    "y": {"field": "y", "type": "quantitative", "title": "Temperature (K)", "scale": {"domain": [235, 2291], "range": [241, 0], "nice": false, "zero": false},
      "axis": {"tickCount": 1000, "labelOverlap": false, "values": [240,280,320,360,400,440,480,520,560,600,640,680,720,760,800,840,880,920,960,1000,1040,1080,1120,1160,1200,1240,1280,1320,1360,1400,1440,1480,1520,1560,1600,1640,1680,1720,1760,1800,1840,1880,1920,1960,2000,2040,2080,2120,2160,2200,2240,2280], "labelExpr": "indexof([400,600,800,1000,1200,1400,1600,1800,2000,2200], datum.value) >= 0 ? '' + datum.value : ''", "tickSize": {"condition": {"test": "indexof([400,600,800,1000,1200,1400,1600,1800,2000,2200], datum.value) >= 0", "value": -5}, "value": -3}, "labelPadding": 13, "labelFontSize": 11, "titleFontSize": 9, "titleX": -36, "titleY": 120}},
    "color": {"field": "s", "type": "nominal", "scale": {"domain": ["A","B","C","D"], "range": ["#000000","#000000","#000000","#808080"]}, "legend": null},
    "strokeDash": {"field": "s", "type": "nominal", "scale": {"domain": ["A","B","C","D"], "range": [[1,0],[8,4],[8,3,2,3],[1,0]]}, "legend": null}
   }},
  {"data": {"name": "aM"}, "mark": {"type": "point", "clip": true, "filled": false, "size": 55, "strokeWidth": 1, "color": "black", "opacity": 1},
   "encoding": {
    "x": {"field": "x", "type": "quantitative", "title": "X(cm)"},
    "y": {"field": "y", "type": "quantitative", "title": "Temperature (K)"},
    "shape": {"field": "s", "type": "nominal", "scale": {"domain": ["A","B","C","D"], "range": ["square","triangle-up","circle","triangle-down"]}, "legend": null}
   }}
 ]
},
{"width":1,"height":1,"data":{"values":[{}]},"mark":{"type":"rect","opacity":0}},
{
 "width": 227, "height": 249,
 "title": {"text": "(b) Temperature (zoom)", "orient": "bottom", "anchor": "middle", "align": "center", "frame": "group", "offset": 47, "dx": -6, "font": "Liberation Serif", "fontSize": 25, "fontWeight": "normal", "color": "black", "baseline": "alphabetic"},
 "layer": [
  {"data": {"name": "bL"}, "mark": {"type": "line", "clip": true, "strokeWidth": 1},
   "encoding": {
    "x": {"field": "x", "type": "quantitative", "title": "X(cm)", "scale": {"domain": [0.0842, 0.3675], "nice": false, "zero": false},
      "axis": {"offset": -1, "tickCount": 1000, "labelOverlap": false, "values": [0.1,0.12,0.14,0.16,0.18,0.2,0.22,0.24,0.26,0.28,0.3,0.32,0.34,0.36], "labelExpr": "indexof([0.1,0.2,0.3], datum.value) >= 0 ? '' + datum.value : ''", "tickSize": {"condition": {"test": "indexof([0.1,0.2,0.3], datum.value) >= 0", "value": -4}, "value": -2}, "labelPadding": 6, "labelFontSize": 8.5, "titleFontSize": 8.5, "titleX": 109, "titleY": 14, "labelColor": "#222", "domainColor": "#222", "tickColor": "#222"}},
    "y": {"field": "y", "type": "quantitative", "title": "Temperature (K)", "scale": {"domain": [1706, 2216], "range": [248, 42], "nice": false, "zero": false},
      "axis": {"tickCount": 1000, "labelOverlap": false, "values": [1720,1760,1800,1840,1880,1920,1960,2000,2040,2080,2120,2160,2200], "labelExpr": "indexof([1800,2000,2200], datum.value) >= 0 ? '' + datum.value : ''", "tickSize": {"condition": {"test": "indexof([1800,2000,2200], datum.value) >= 0", "value": -4}, "value": -2}, "labelPadding": 7, "labelFontSize": 8.5, "titleFontSize": 7, "titleX": -31, "titleY": 137, "labelColor": "#222", "domainColor": "#222", "tickColor": "#222"}},
    "color": {"field": "s", "type": "nominal", "scale": {"domain": ["A","B","C","D"], "range": ["#222222","#222222","#222222","#777777"]}, "legend": null},
    "strokeDash": {"field": "s", "type": "nominal", "scale": {"domain": ["A","B","C","D"], "range": [[1,0],[6,3],[6,3,1.5,3],[2,2]]}, "legend": null}
   }},
  {"data": {"name": "bL"}, "transform": [{"filter": "datum.x < 0.365 && datum.y > 1700"}], "mark": {"type": "point", "clip": true, "filled": false, "size": 30, "strokeWidth": 0.8, "color": "#333", "opacity": 1},
   "encoding": {
    "x": {"field": "x", "type": "quantitative", "title": "X(cm)"},
    "y": {"field": "y", "type": "quantitative", "title": "Temperature (K)"},
    "shape": {"field": "s", "type": "nominal", "scale": {"domain": ["A","B","C","D"], "range": ["square","triangle-up","circle","triangle-down"]}, "legend": null}
   }}
 ]
},
{"width":1,"height":1,"data":{"values":[{}]},"mark":{"type":"rect","opacity":0}},
{
 "width": 224, "height": 249,
 "title": {"text": ["(c)\u00a0\u00a0\u00a0Fraction\u00a0\u00a0\u00a0\u00a0\u00a0\u00a0\u00a0massique\u00a0\u00a0de", "CO₂"], "orient": "bottom", "anchor": "start", "align": "left", "frame": "group", "offset": 34, "dx": -48, "font": "Liberation Serif", "fontSize": 25, "fontWeight": "normal", "color": "black", "baseline": "alphabetic", "lineHeight": 28.5},
 "layer": [
  {"data": {"name": "cL"}, "mark": {"type": "line", "clip": true, "strokeWidth": 1},
   "encoding": {
    "x": {"field": "x", "type": "quantitative", "title": "X(cm)", "scale": {"domain": [-2.43, 7.79], "nice": false, "zero": false},
      "axis": {"tickCount": 1000, "labelOverlap": false, "values": [-2,-1.6,-1.2,-0.8,-0.4,0,0.4,0.8,1.2,1.6,2,2.4,2.8,3.2,3.6,4,4.4,4.8,5.2,5.6,6,6.4,6.8,7.2,7.6], "labelExpr": "indexof([-2,0,2,4,6], datum.value) >= 0 ? '' + datum.value : ''", "tickSize": {"condition": {"test": "indexof([-2,0,2,4,6], datum.value) >= 0", "value": -4}, "value": -2}, "labelPadding": 6, "labelFontSize": 8, "titleFontSize": 9.5, "titleX": 112, "titleY": 15}},
    "y": {"field": "y", "type": "quantitative", "title": "CO2 mass fraction", "scale": {"domain": [-0.0041, 0.1628], "range": [249, 47], "nice": false, "zero": false},
      "axis": {"tickCount": 1000, "labelOverlap": false, "values": [0,0.002,0.004,0.006,0.008,0.01,0.012,0.014,0.016,0.018,0.02,0.022,0.024,0.026,0.028,0.03,0.032,0.034,0.036,0.038,0.04,0.042,0.044,0.046,0.048,0.05,0.052,0.054,0.056,0.058,0.06,0.062,0.064,0.066,0.068,0.07,0.072,0.074,0.076,0.078,0.08,0.082,0.084,0.086,0.088,0.09,0.092,0.094,0.096,0.098,0.1,0.102,0.104,0.106,0.108,0.11,0.112,0.114,0.116,0.118,0.12,0.122,0.124,0.126,0.128,0.13,0.132,0.134,0.136,0.138,0.14,0.142,0.144,0.146,0.148,0.15,0.152,0.154,0.156,0.158,0.16,0.162], "labelExpr": "indexof([0,0.01,0.02,0.03,0.04,0.05,0.06,0.07,0.08,0.09,0.1,0.11,0.12,0.13,0.14,0.15,0.16], datum.value) >= 0 ? '' + datum.value : ''", "tickSize": {"condition": {"test": "indexof([0,0.01,0.02,0.03,0.04,0.05,0.06,0.07,0.08,0.09,0.1,0.11,0.12,0.13,0.14,0.15,0.16], datum.value) >= 0", "value": -4}, "value": -2}, "labelPadding": 7, "labelFontSize": 7.5, "titleFontSize": 7.5, "titleX": -30, "titleY": 138}},
    "color": {"field": "s", "type": "nominal", "scale": {"domain": ["A","B","C","D"], "range": ["#000000","#000000","#000000","#000000"]}, "legend": null},
    "strokeDash": {"field": "s", "type": "nominal", "scale": {"domain": ["A","B","C","D"], "range": [[1,0],[6,3],[6,3,2,3],[2,2]]}, "legend": null}
   }},
  {"data": {"name": "cM"}, "mark": {"type": "point", "clip": true, "filled": false, "size": 32, "strokeWidth": 1.2, "color": "black", "opacity": 1},
   "encoding": {
    "x": {"field": "x", "type": "quantitative", "title": "X(cm)"},
    "y": {"field": "y", "type": "quantitative", "title": "CO2 mass fraction"},
    "shape": {"field": "s", "type": "nominal", "scale": {"domain": ["A","B","C","D"], "range": ["square","triangle-up","circle","triangle-down"]}, "legend": null}
   }}
 ]
},

{"width":1,"height":106,"data":{"values":[{}]},"mark":{"type":"rect","opacity":0}},
{"width":1,"height":1,"data":{"values":[{}]},"mark":{"type":"rect","opacity":0}},
{"width":1,"height":1,"data":{"values":[{}]},"mark":{"type":"rect","opacity":0}},
{"width":1,"height":1,"data":{"values":[{}]},"mark":{"type":"rect","opacity":0}},
{"width":1,"height":1,"data":{"values":[{}]},"mark":{"type":"rect","opacity":0}},
{"width":1,"height":1,"data":{"values":[{}]},"mark":{"type":"rect","opacity":0}},

{"width":1,"height":1,"data":{"values":[{}]},"mark":{"type":"rect","opacity":0}},
{
 "width": 249, "height": 234,
 "title": {"text": ["(d)\u00a0\u00a0\u00a0Fraction\u00a0\u00a0\u00a0\u00a0\u00a0\u00a0\u00a0massique\u00a0\u00a0de", "CO"], "orient": "bottom", "anchor": "start", "align": "left", "frame": "group", "offset": 35, "dx": -49, "font": "Liberation Serif", "fontSize": 25, "fontWeight": "normal", "color": "black", "baseline": "alphabetic", "lineHeight": 28.5},
 "layer": [
  {"data": {"name": "dL"}, "mark": {"type": "line", "clip": true, "strokeWidth": 1},
   "encoding": {
    "x": {"field": "x", "type": "quantitative", "title": "X(cm)", "scale": {"domain": [0.0275, 0.2813], "range": [18, 249], "nice": false, "zero": false},
      "axis": {"offset": -8, "tickCount": 1000, "labelOverlap": false, "values": [0.04,0.06,0.08,0.1,0.12,0.14,0.16,0.18,0.2,0.22,0.24,0.26,0.28], "labelExpr": "indexof([0.1,0.2], datum.value) >= 0 ? '' + datum.value : ''", "tickSize": {"condition": {"test": "indexof([0.1,0.2], datum.value) >= 0", "value": -5}, "value": -3}, "labelPadding": 8, "labelFontSize": 9.5, "titleFontSize": 9.5, "titleX": 139, "titleY": 20}},
    "y": {"field": "y", "type": "quantitative", "title": "CO mass fraction", "scale": {"domain": [-0.00065, 0.0485], "range": [226, 0], "nice": false, "zero": false},
      "axis": {"offset": -18, "tickCount": 1000, "labelOverlap": false, "values": [0,0.002,0.004,0.006,0.008,0.01,0.012,0.014,0.016,0.018,0.02,0.022,0.024,0.026,0.028,0.03,0.032,0.034,0.036,0.038,0.04,0.042,0.044,0.046,0.048], "labelExpr": "indexof([0,0.01,0.02,0.03,0.04], datum.value) >= 0 ? '' + datum.value : ''", "tickSize": {"condition": {"test": "indexof([0,0.01,0.02,0.03,0.04], datum.value) >= 0", "value": -5}, "value": -3}, "labelPadding": 9, "labelFontSize": 9.5, "titleFontSize": 10.5, "titleX": -37, "titleY": 114}},
    "color": {"field": "s", "type": "nominal", "scale": {"domain": ["A","B","C","D"], "range": ["#000000","#000000","#000000","#000000"]}, "legend": null},
    "strokeDash": {"field": "s", "type": "nominal", "scale": {"domain": ["A","B","C","D"], "range": [[1,0],[5,3],[5,3,1.5,3],[1,0]]}, "legend": null}
   }},
  {"data": {"name": "dL"}, "transform": [{"filter": "datum.x < 0.28"}], "mark": {"type": "point", "clip": true, "filled": false, "size": 30, "strokeWidth": 1, "color": "black", "opacity": 1},
   "encoding": {
    "x": {"field": "x", "type": "quantitative", "title": "X(cm)"},
    "y": {"field": "y", "type": "quantitative", "title": "CO mass fraction"},
    "shape": {"field": "s", "type": "nominal", "scale": {"domain": ["A","B","C","D"], "range": ["square","triangle-up","circle","triangle-down"]}, "legend": null}
   }}
 ]
},
{"width":1,"height":1,"data":{"values":[{}]},"mark":{"type":"rect","opacity":0}},
{
 "width": 227, "height": 234,
 "title": {"text": ["(e)\u00a0\u00a0\u00a0Fraction\u00a0\u00a0\u00a0\u00a0\u00a0\u00a0\u00a0massique\u00a0\u00a0de", "HCO"], "orient": "bottom", "anchor": "start", "align": "left", "frame": "group", "offset": 32, "dx": -36, "font": "Liberation Serif", "fontSize": 25, "fontWeight": "normal", "color": "black", "baseline": "alphabetic", "lineHeight": 28.5},
 "layer": [
  {"data": {"name": "eL"}, "mark": {"type": "line", "clip": true, "strokeWidth": 1},
   "encoding": {
    "x": {"field": "x", "type": "quantitative", "title": "X(cm)", "scale": {"domain": [0.0696, 0.1127], "range": [4, 227], "nice": false, "zero": false},
      "axis": {"tickCount": 1000, "labelOverlap": false, "values": [0.07,0.0725,0.075,0.0775,0.08,0.0825,0.085,0.0875,0.09,0.0925,0.095,0.0975,0.1,0.1025,0.105,0.1075,0.11,0.1125], "labelExpr": "indexof([0.08,0.09,0.1,0.11], datum.value) >= 0 ? '' + datum.value : ''", "tickSize": {"condition": {"test": "indexof([0.08,0.09,0.1,0.11], datum.value) >= 0", "value": -5}, "value": -3}, "labelPadding": 7, "labelFontSize": 8.5, "titleFontSize": 9, "titleX": 121, "titleY": 16}},
    "y": {"field": "y", "type": "quantitative", "title": "HCO mass fraction", "scale": {"domain": [-0.0000025, 0.0000744], "range": [234, 31], "nice": false, "zero": false},
      "axis": {"offset": -4, "tickCount": 1000, "labelOverlap": false, "values": [0,0.0000025,0.000005,0.0000075,0.00001,0.0000125,0.000015,0.0000175,0.00002,0.0000225,0.000025,0.0000275,0.00003,0.0000325,0.000035,0.0000375,0.00004,0.0000425,0.000045,0.0000475,0.00005,0.0000525,0.000055,0.0000575,0.00006,0.0000625,0.000065,0.0000675,0.00007,0.0000725], "labelExpr": "indexof([0,0.00001,0.00002,0.00003,0.00004,0.00005,0.00006,0.00007], datum.value) >= 0 ? (datum.value < 0.000045 ? '0.0000' : '0.0001') : ''", "tickSize": {"condition": {"test": "indexof([0,0.00001,0.00002,0.00003,0.00004,0.00005,0.00006,0.00007], datum.value) >= 0", "value": -5}, "value": -3}, "labelPadding": 9, "labelFontSize": 8.5, "titleFontSize": 10.5, "titleX": -38, "titleY": 132}},
    "color": {"field": "s", "type": "nominal", "scale": {"domain": ["A","B","C","D"], "range": ["#000000","#000000","#000000","#000000"]}, "legend": null},
    "strokeDash": {"field": "s", "type": "nominal", "scale": {"domain": ["A","B","C","D"], "range": [[1,0],[5,3],[5,3,1.5,3],[1,0]]}, "legend": null}
   }},
  {"data": {"name": "eL"}, "mark": {"type": "point", "clip": true, "filled": false, "size": 24, "strokeWidth": 1, "color": "black", "opacity": 1},
   "encoding": {
    "x": {"field": "x", "type": "quantitative", "title": "X(cm)"},
    "y": {"field": "y", "type": "quantitative", "title": "HCO mass fraction"},
    "shape": {"field": "s", "type": "nominal", "scale": {"domain": ["A","B","C","D"], "range": ["square","triangle-up","circle","triangle-down"]}, "legend": null}
   }}
 ]
},
{"width":1,"height":1,"data":{"values":[{}]},"mark":{"type":"rect","opacity":0}},
{
 "width": 224, "height": 234,
 "title": {"text": ["(f)\u00a0\u00a0\u00a0Fraction\u00a0\u00a0\u00a0\u00a0\u00a0\u00a0\u00a0massique\u00a0\u00a0de", "OH"], "orient": "bottom", "anchor": "start", "align": "left", "frame": "group", "offset": 32, "dx": -41, "font": "Liberation Serif", "fontSize": 25, "fontWeight": "normal", "color": "black", "baseline": "alphabetic", "lineHeight": 28.5},
 "layer": [
  {"data": {"name": "fL"}, "mark": {"type": "line", "clip": true, "strokeWidth": 1},
   "encoding": {
    "x": {"field": "x", "type": "quantitative", "title": "X(cm)", "scale": {"domain": [0.0608, 0.3514], "range": [1, 224], "nice": false, "zero": false},
      "axis": {"tickCount": 1000, "labelOverlap": false, "values": [0.08,0.1,0.12,0.14,0.16,0.18,0.2,0.22,0.24,0.26,0.28,0.3,0.32,0.34], "labelExpr": "indexof([0.1,0.2,0.3], datum.value) >= 0 ? '' + datum.value : ''", "tickSize": {"condition": {"test": "indexof([0.1,0.2,0.3], datum.value) >= 0", "value": -5}, "value": -3}, "labelPadding": 7, "labelFontSize": 8.5, "titleFontSize": 9, "titleX": 114, "titleY": 16}},
    "y": {"field": "y", "type": "quantitative", "title": "OH mass fraction", "scale": {"domain": [-0.0000956, 0.005736], "range": [234, 31], "nice": false, "zero": false},
      "axis": {"offset": -1, "tickCount": 1000, "labelOverlap": false, "values": [0,0.0002,0.0004,0.0006,0.0008,0.001,0.0012,0.0014,0.0016,0.0018,0.002,0.0022,0.0024,0.0026,0.0028,0.003,0.0032,0.0034,0.0036,0.0038,0.004,0.0042,0.0044,0.0046,0.0048,0.005,0.0052,0.0054,0.0056], "labelExpr": "indexof([0,0.001,0.002,0.003,0.004,0.005], datum.value) >= 0 ? format(datum.value, '.4f') : ''", "tickSize": {"condition": {"test": "indexof([0,0.001,0.002,0.003,0.004,0.005], datum.value) >= 0", "value": -5}, "value": -3}, "labelPadding": 8, "labelFontSize": 8.5, "titleFontSize": 10, "titleX": -36, "titleY": 130}},
    "color": {"field": "s", "type": "nominal", "scale": {"domain": ["A","B","C","D"], "range": ["#000000","#000000","#000000","#000000"]}, "legend": null},
    "strokeDash": {"field": "s", "type": "nominal", "scale": {"domain": ["A","B","C","D"], "range": [[1,0],[5,3],[5,3,1.5,3],[1,0]]}, "legend": null}
   }},
  {"data": {"name": "fL"}, "transform": [{"filter": "datum.x < 0.35"}], "mark": {"type": "point", "clip": true, "filled": false, "size": 30, "strokeWidth": 1, "color": "black", "opacity": 1},
   "encoding": {
    "x": {"field": "x", "type": "quantitative", "title": "X(cm)"},
    "y": {"field": "y", "type": "quantitative", "title": "OH mass fraction"},
    "shape": {"field": "s", "type": "nominal", "scale": {"domain": ["A","B","C","D"], "range": ["square","triangle-up","circle","triangle-down"]}, "legend": null}
   }}
 ]
}
]
}
